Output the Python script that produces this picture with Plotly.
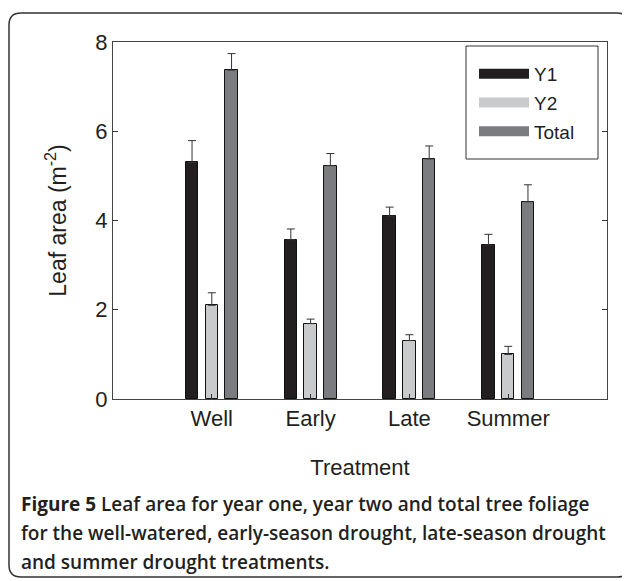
import plotly.graph_objects as go

treatments = ["Well", "Early", "Late", "Summer"]
series_names = ["Y1", "Y2", "Total"]
y1 = [5.30, 3.57, 4.10, 3.45]
y1_err = [0.49, 0.24, 0.20, 0.24]
y2 = [2.10, 1.69, 1.31, 1.00]
y2_err = [0.28, 0.10, 0.13, 0.18]
total = [7.37, 5.23, 5.38, 4.42]
total_err = [0.37, 0.27, 0.29, 0.38]
y_ticks = [0, 2, 4, 6, 8]

colors = ["#231f20", "#c9cacc", "#7b7c80"]
offsets = [-0.2, 0.0, 0.2]
values = [y1, y2, total]
errors = [y1_err, y2_err, total_err]

# page body adds an 8px offset; lay things out in screen coords minus it
OFF = 8
W, H = 630, 581
PL, PT, PW, PH = 113, 42, 494, 357          # plot area in screen pixels
ML, MT = PL - OFF, PT - OFF
MR, MB = W - ML - PW, H - MT - PH

def px(x):
    return (x - PL) / PW

def py(y):
    return 1 - (y - PT) / PH

fig = go.Figure()
xpos = list(range(1, len(treatments) + 1))
for name, vals, errs, col, off in zip(series_names, values, errors, colors, offsets):
    fig.add_trace(go.Bar(
        x=[p + off for p in xpos], y=vals, width=0.127, name=name, legendgroup=name,
        marker=dict(color=col, line=dict(color="#111111", width=1)),
        error_y=dict(type="data", array=errs, arrayminus=[0] * len(errs), symmetric=False,
                     color="#333333", thickness=1, width=4),
        showlegend=False,
    ))
    fig.add_trace(go.Scatter(
        x=[None], y=[None], mode="lines", name=name, legendgroup=name,
        line=dict(color=col, width=10), showlegend=True,
    ))

# outer rounded frame
x0, x1, yt, yb, r = 9, 629, 13, 577, 12
path = (f"M {px(x0 + r)},{py(yt)} L {px(x1 - r)},{py(yt)} "
        f"Q {px(x1)},{py(yt)} {px(x1)},{py(yt + r)} "
        f"L {px(x1)},{py(yb - r)} Q {px(x1)},{py(yb)} {px(x1 - r)},{py(yb)} "
        f"L {px(x0 + r)},{py(yb)} Q {px(x0)},{py(yb)} {px(x0)},{py(yb - r)} "
        f"L {px(x0)},{py(yt + r)} Q {px(x0)},{py(yt)} {px(x0 + r)},{py(yt)} Z")
fig.add_shape(type="path", path=path, xref="paper", yref="paper",
              line=dict(color="#333333", width=1.5))

# legend box
fig.add_shape(type="rect", xref="paper", yref="paper",
              x0=px(466), x1=px(598), y0=py(159), y1=py(46),
              line=dict(color="#333333", width=1), fillcolor="white", layer="below")

cap_font = dict(family="Open Sans, Noto Sans, sans-serif", size=19, color="#231f20", weight=600)
caption = ["<b>Figure 5</b> Leaf area for year one, year two and total tree foliage",
           "for the well-watered, early-season drought, late-season drought",
           "and summer drought treatments."]
for i, line in enumerate(caption):
    fig.add_annotation(text=line, xref="paper", yref="paper", x=px(19), y=py(504 + 29 * i),
                       xanchor="left", yanchor="middle", showarrow=False, font=cap_font)

fig.update_layout(
    width=W, height=H,
    margin=dict(l=ML, r=MR, t=MT, b=MB),
    paper_bgcolor="white", plot_bgcolor="white",
    font=dict(family="Liberation Sans, Arial, sans-serif", color="#231f20"),
    bargap=0, barmode="overlay",
    legend=dict(x=px(474), y=py(55), xanchor="left", yanchor="top",
                borderwidth=0, bgcolor="rgba(0,0,0,0)", tracegroupgap=1,
                font=dict(size=19), itemwidth=50),
    showlegend=True,
)
fig.update_xaxes(range=[0, 5], tickmode="array", tickvals=xpos, ticktext=treatments,
                 ticks="inside", ticklen=5, tickcolor="#333333",
                 showline=True, linecolor="#444444", mirror=True, showgrid=False, zeroline=False,
                 tickfont=dict(size=22),
                 title=dict(text="Treatment", font=dict(size=22), standoff=29))
fig.update_yaxes(range=[0, 8], tickmode="array", tickvals=y_ticks,
                 ticks="inside", ticklen=5, tickcolor="#333333",
                 showline=True, linecolor="#444444", mirror="ticks", showgrid=False, zeroline=False,
                 tickfont=dict(size=22),
                 title=dict(text="Leaf area (m<sup>-2</sup>)", font=dict(size=23), standoff=22))

fig.write_html("out.html")
